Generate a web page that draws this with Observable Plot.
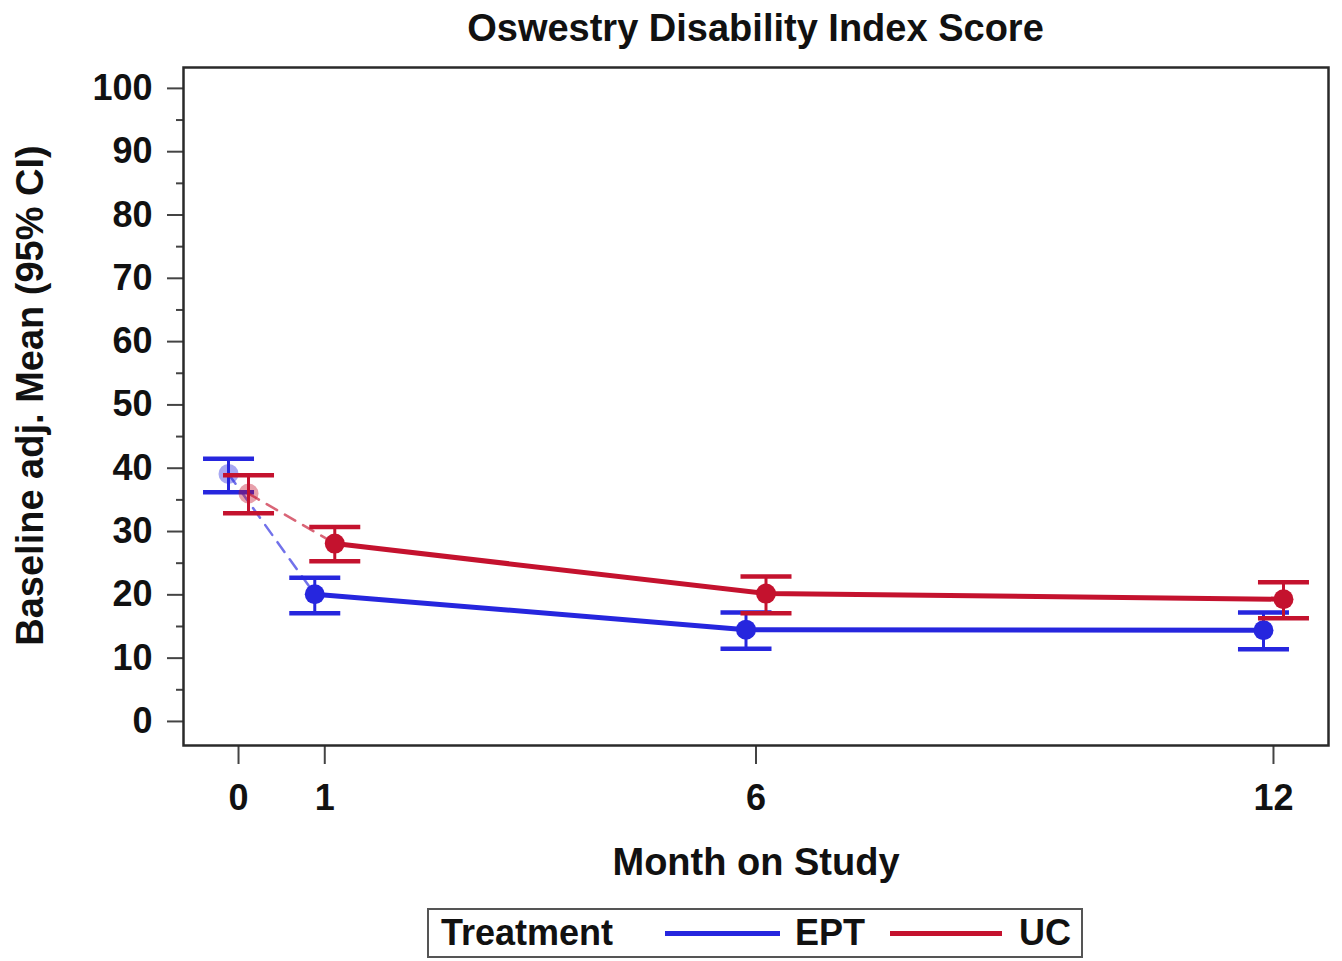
<!DOCTYPE html>
<html><head><meta charset="utf-8">
<script src="https://cdn.jsdelivr.net/npm/d3@7"></script>
<script src="https://cdn.jsdelivr.net/npm/@observablehq/plot@0.6"></script>
<style>
body{margin:0;background:#fff;font-family:"Liberation Sans",Arial,sans-serif;}
#wrap{position:relative;width:1342px;height:961px;overflow:hidden;}
#title{position:absolute;left:183px;width:1145px;top:5px;text-align:center;font-weight:bold;font-size:38px;line-height:46px;color:#111;}
#chart{position:absolute;left:0;top:50px;}
#legend{position:absolute;left:427px;top:908px;width:652px;height:46px;border:2px solid #555;box-sizing:content-box;font-weight:bold;font-size:36px;color:#111;}
#legend span{position:absolute;top:0;line-height:46px;}
#legend .sw{top:21px;height:5px;}
</style></head>
<body><div id="wrap"><div id="title">Oswestry Disability Index Score</div><div id="chart"></div><div id="legend"></div></div>
<script>
// ---- data ----
const months = [0, 1, 6, 12];
const eptMean  = [39.1, 20.1, 14.5, 14.4];
const eptLower = [36.2, 17.1, 11.5, 11.4];
const eptUpper = [41.5, 22.7, 17.2, 17.2];
const ucMean   = [36.0, 28.1, 20.2, 19.3];
const ucLower  = [32.9, 25.3, 17.1, 16.3];
const ucUpper  = [38.9, 30.7, 22.9, 22.0];
const seriesNames = ["EPT", "UC"];
const yTicks = [0, 10, 20, 30, 40, 50, 60, 70, 80, 90, 100];
const yMinorTicks = [5, 15, 25, 35, 45, 55, 65, 75, 85, 95];
const xTicks = [0, 1, 6, 12];

const colors = {EPT: "#2626de", UC: "#c4122e"};
const dxs = {EPT: -10, UC: 10};

const build = (name, mean, lower, upper) =>
  months.map((m, i) => ({series: name, month: m, mean: mean[i], lower: lower[i], upper: upper[i]}));
const series = {
  EPT: build("EPT", eptMean, eptLower, eptUpper),
  UC: build("UC", ucMean, ucLower, ucUpper)
};

const capSymbol = {
  draw(context, size) {
    const w = Math.sqrt(size / Math.PI);
    context.moveTo(-w, 0);
    context.lineTo(w, 0);
  }
};

const marks = [];
for (const name of seriesNames) {
  const rows = series[name];
  const c = colors[name];
  const dx = dxs[name];
  marks.push(
    Plot.line(rows.filter(d => d.month <= 1), {x: "month", y: "mean", stroke: c, strokeWidth: 2.5, strokeDasharray: "12,9", strokeOpacity: 0.65, dx}),
    Plot.line(rows.filter(d => d.month >= 1), {x: "month", y: "mean", stroke: c, strokeWidth: 5, dx}),
    Plot.ruleX(rows, {x: "month", y1: "lower", y2: "upper", stroke: c, strokeWidth: 3, dx}),
    Plot.dot(rows, {x: "month", y: "lower", symbol: capSymbol, r: 25.5, fill: "none", stroke: c, strokeWidth: 4.5, dx}),
    Plot.dot(rows, {x: "month", y: "upper", symbol: capSymbol, r: 25.5, fill: "none", stroke: c, strokeWidth: 4.5, dx}),
    Plot.dot(rows.filter(d => d.month >= 1), {x: "month", y: "mean", r: 10, fill: c, stroke: "none", dx}),
    Plot.dot(rows.filter(d => d.month < 1), {x: "month", y: "mean", r: 10, fill: c, fillOpacity: 0.4, stroke: "none", dx})
  );
}

const chart = Plot.plot({
  width: 1342,
  height: 845,
  marginTop: 17,
  marginBottom: 150,
  marginLeft: 183,
  marginRight: 14,
  style: {fontFamily: "'Liberation Sans', Arial, sans-serif", fontWeight: "bold", color: "#111", background: "#fff"},
  x: {domain: [-0.638, 12.638]},
  y: {domain: [-3.8, 103.3]},
  marks: [
    Plot.axisY({ticks: yMinorTicks, tickSize: 7, tickFormat: () => "", label: null, stroke: "#444", strokeWidth: 2}),
    Plot.axisY({ticks: yTicks, tickSize: 16, tickPadding: 15, fontSize: 36, fontWeight: "bold", label: null, stroke: "#444", strokeWidth: 2}),
    Plot.axisX({ticks: xTicks, tickSize: 19, tickPadding: 20, fontSize: 36, fontWeight: "bold", label: null, stroke: "#444", strokeWidth: 2}),
    Plot.text(["Baseline adj. Mean (95% CI)"], {frameAnchor: "left", textAnchor: "middle", lineAnchor: "middle", rotate: -90, dx: -153, dy: -11, fontSize: 38, fontWeight: "bold", fill: "#111"}),
    Plot.text(["Month on Study"], {frameAnchor: "bottom", dy: 129, fontSize: 38, fontWeight: "bold", fill: "#111"}),
    ...marks,
    Plot.frame({stroke: "#2a2a2a", strokeWidth: 2.5})
  ]
});
document.getElementById("chart").appendChild(chart);

// legend
const legend = document.getElementById("legend");
const items = [
  {text: "Treatment", left: 12},
  {sw: colors.EPT, left: 236, width: 115},
  {text: "EPT", left: 366},
  {sw: colors.UC, left: 461, width: 112},
  {text: "UC", left: 590}
];
for (const it of items) {
  const s = document.createElement("span");
  s.style.left = it.left + "px";
  if (it.sw) { s.className = "sw"; s.style.width = it.width + "px"; s.style.background = it.sw; }
  else s.textContent = it.text;
  legend.appendChild(s);
}
</script>
</body></html>
